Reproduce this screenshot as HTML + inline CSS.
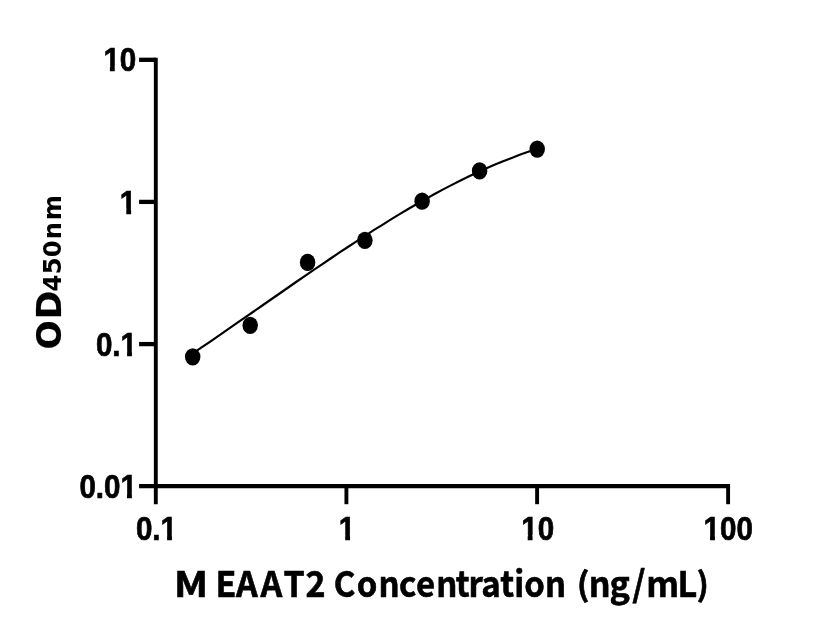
<!DOCTYPE html>
<html>
<head>
<meta charset="utf-8">
<title>M EAAT2 standard curve</title>
<style>
html,body{margin:0;padding:0;background:#fff;}
body{width:816px;height:640px;overflow:hidden;}
svg{display:block;}
text{font-family:"Liberation Sans",sans-serif;font-weight:bold;fill:#000;stroke:#000;font-kerning:none;}
text.d{font-family:"DejaVu Sans","Liberation Sans",sans-serif;}
.n text{font-family:"Noto Sans CJK SC","Liberation Sans",sans-serif;}
</style>
</head>
<body>
<svg width="816" height="640" viewBox="0 0 816 640">
<defs>
<g id="nofoot" fill="#fff" stroke="none"><rect x="0.326" y="-4.91" width="7.02" height="6.41"/><rect x="12.83" y="-4.91" width="6.5" height="6.41"/></g>
</defs>
<rect x="0" y="0" width="816" height="640" fill="#fff"/>
<!-- axes -->
<g stroke="#000" fill="none" stroke-linecap="butt">
<g stroke-width="3.9">
<line x1="155.8" y1="57.65" x2="155.8" y2="504.2"/>
<line x1="346.4" y1="486.1" x2="346.4" y2="504.2"/>
<line x1="537.1" y1="486.1" x2="537.1" y2="504.2"/>
<line x1="728.1" y1="486.1" x2="728.1" y2="504.2"/>
</g>
<g stroke-width="4.3">
<line x1="139.1" y1="486.1" x2="730.05" y2="486.1"/>
<line x1="139.1" y1="59.8" x2="155.8" y2="59.8"/>
<line x1="139.1" y1="201.9" x2="155.8" y2="201.9"/>
<line x1="139.1" y1="344.1" x2="155.8" y2="344.1"/>
</g>
</g>
<!-- fitted curve -->
<path fill="none" stroke="#000" stroke-width="2.15" stroke-linejoin="round" d="M192.6,353.6 L201.2,347.7 L209.9,341.8 L218.5,335.9 L227.1,329.9 L235.7,323.9 L244.4,317.9 L253.0,312.0 L261.6,306.0 L270.2,300.0 L278.9,294.0 L287.5,288.0 L296.1,282.0 L304.7,276.1 L313.4,270.2 L322.0,264.3 L330.6,258.5 L339.2,252.7 L347.9,247.0 L356.5,241.4 L365.1,235.8 L373.7,230.2 L382.4,224.8 L391.0,219.4 L399.6,214.2 L408.2,209.0 L416.9,204.0 L425.5,199.1 L434.1,194.3 L442.7,189.6 L451.4,185.1 L460.0,180.7 L468.6,176.5 L477.2,172.5 L485.9,168.6 L494.5,164.8 L503.1,161.3 L511.7,157.9 L520.4,154.6 L529.0,151.6 L537.6,148.7"/>
<!-- data points -->
<g fill="#000">
<ellipse cx="192.7" cy="356.85" rx="7.75" ry="8.6"/>
<ellipse cx="250.2" cy="325.35" rx="7.75" ry="8.6"/>
<ellipse cx="307.6" cy="262.45" rx="7.75" ry="8.6"/>
<ellipse cx="364.9" cy="240.45" rx="7.75" ry="8.6"/>
<ellipse cx="422.1" cy="201.15" rx="7.75" ry="8.6"/>
<ellipse cx="479.6" cy="170.95" rx="7.75" ry="8.6"/>
<ellipse cx="537.2" cy="149.05" rx="7.75" ry="8.6"/>
</g>
<!-- y tick labels -->
<g font-size="33.4" stroke-width="0.7">
<g transform="translate(103.39,71.4) scale(0.886,1)"><text x="0" y="0">10</text><use href="#nofoot" x="0" y="0"/></g>
<g transform="translate(119.78,213.5) scale(0.886,1)"><text x="0" y="0">1</text><use href="#nofoot" x="0" y="0"/></g>
<g transform="translate(95.88,355.7) scale(0.886,1)"><text x="0" y="0">0.1</text><use href="#nofoot" x="27.86" y="0"/></g>
<g transform="translate(79.38,497.9) scale(0.886,1)"><text x="0" y="0">0.01</text><use href="#nofoot" x="46.43" y="0"/></g>
</g>
<!-- x tick labels -->
<g font-size="33.4" stroke-width="0.7">
<g transform="translate(135.88,539.9) scale(0.886,1)"><text x="0" y="0">0.1</text><use href="#nofoot" x="27.86" y="0"/></g>
<g transform="translate(338.68,539.9) scale(0.886,1)"><text x="0" y="0">1</text><use href="#nofoot" x="0" y="0"/></g>
<g transform="translate(521.19,539.9) scale(0.886,1)"><text x="0" y="0">10</text><use href="#nofoot" x="0" y="0"/></g>
<g transform="translate(703.53,539.9) scale(0.886,1)"><text x="0" y="0">100</text><use href="#nofoot" x="0" y="0"/></g>
</g>
<!-- x axis title: M EAAT2 Concentration (ng/mL) -->
<g font-size="35.6" stroke-width="0.6" class="n">
<text transform="translate(0,596.9) scale(1.122,1)" x="155.1">M</text> <text transform="translate(0,596.9) scale(0.954,1)" x="225.96 247.29 273.08 297.26 320.13">EAAT2</text> <text transform="translate(0,596.9) scale(0.926,1)" x="360.41 385.4 408.68 430.76 449.18 471.2 492.07 505.93 519.8 540.24 555.3 566.18 588.59">Concentration</text> <text transform="translate(0,585.67) scale(0.956,0.915)" x="603.25" y="11.23">(</text><text transform="translate(0,596.9) scale(0.959,1)" x="613.82 635.66 659.4 673.78 706.55">ng/mL</text><text transform="translate(0,585.67) scale(0.921,0.915)" x="756.13" y="11.23">)</text>
</g>
<!-- y axis title: OD450nm -->
<g>
<text class="d" transform="translate(61.2,348.1) rotate(-90) scale(1.04,1)" x="-1.422 27.81" font-size="33" stroke-width="0.2">OD</text><text class="d" transform="translate(61.1,348.1) rotate(-90) scale(0.994,1)" x="56.97 74.37 91.36 109.5 128.59" font-size="24.4" stroke-width="0">450nm</text>
</g>
</svg>
</body>
</html>
